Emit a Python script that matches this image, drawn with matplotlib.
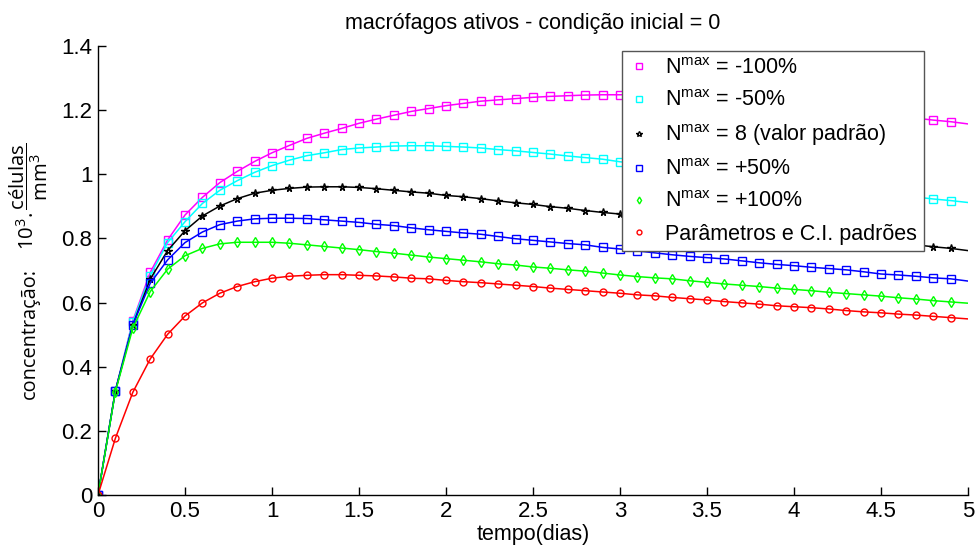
import matplotlib
matplotlib.use("Agg")
import matplotlib.pyplot as plt
from matplotlib.lines import Line2D
from matplotlib.ticker import FuncFormatter

plt.rcParams['font.family'] = ['Liberation Sans', 'DejaVu Sans']
plt.rcParams['mathtext.fontset'] = 'custom'
plt.rcParams['mathtext.rm'] = 'Liberation Sans'
plt.rcParams['mathtext.it'] = 'Liberation Sans:italic'
plt.rcParams['mathtext.bf'] = 'Liberation Sans:bold'
plt.rcParams['mathtext.sf'] = 'Open Sans'

tempo = [0.0, 0.1, 0.2, 0.3, 0.4, 0.5, 0.6, 0.7, 0.8, 0.9,
         1.0, 1.1, 1.2, 1.3, 1.4, 1.5, 1.6, 1.7, 1.8, 1.9,
         2.0, 2.1, 2.2, 2.3, 2.4, 2.5, 2.6, 2.7, 2.8, 2.9,
         3.0, 3.1, 3.2, 3.3, 3.4, 3.5, 3.6, 3.7, 3.8, 3.9,
         4.0, 4.1, 4.2, 4.3, 4.4, 4.5, 4.6, 4.7, 4.8, 4.9,
         5.0]

nmax_m100 = [0, 0.325, 0.543, 0.694, 0.795, 0.873, 0.928, 0.974, 1.009, 1.040,
             1.067, 1.090, 1.112, 1.128, 1.143, 1.159, 1.172, 1.184, 1.196, 1.205,
             1.214, 1.221, 1.228, 1.232, 1.236, 1.240, 1.243, 1.245, 1.247, 1.248,
             1.248, 1.248, 1.247, 1.245, 1.243, 1.240, 1.236, 1.232, 1.227, 1.222,
             1.217, 1.211, 1.205, 1.199, 1.193, 1.187, 1.181, 1.175, 1.169, 1.164,
             1.157]

nmax_m50 = [0, 0.325, 0.540, 0.684, 0.787, 0.852, 0.909, 0.950, 0.980, 1.006,
            1.027, 1.044, 1.058, 1.067, 1.077, 1.082, 1.085, 1.088, 1.089, 1.089,
            1.087, 1.085, 1.082, 1.077, 1.073, 1.068, 1.063, 1.057, 1.052, 1.047,
            1.039, 1.033, 1.027, 1.020, 1.014, 1.007, 1.000, 0.994, 0.987, 0.981,
            0.974, 0.968, 0.961, 0.955, 0.948, 0.942, 0.935, 0.929, 0.923, 0.918,
            0.912]

nmax_padrao = [0, 0.325, 0.530, 0.673, 0.762, 0.824, 0.870, 0.901, 0.924, 0.941,
               0.950, 0.956, 0.960, 0.961, 0.961, 0.959, 0.955, 0.950, 0.945, 0.941,
               0.934, 0.930, 0.924, 0.917, 0.911, 0.906, 0.899, 0.894, 0.887, 0.881,
               0.876, 0.870, 0.864, 0.858, 0.853, 0.847, 0.841, 0.836, 0.830, 0.824,
               0.819, 0.813, 0.808, 0.802, 0.797, 0.791, 0.786, 0.780, 0.774, 0.769,
               0.762]

nmax_p50 = [0, 0.325, 0.530, 0.660, 0.733, 0.787, 0.820, 0.843, 0.854, 0.861,
            0.863, 0.863, 0.862, 0.858, 0.854, 0.850, 0.844, 0.840, 0.833, 0.827,
            0.822, 0.817, 0.813, 0.806, 0.799, 0.794, 0.789, 0.784, 0.780, 0.772,
            0.767, 0.761, 0.755, 0.749, 0.744, 0.740, 0.736, 0.730, 0.724, 0.719,
            0.715, 0.710, 0.706, 0.702, 0.696, 0.689, 0.686, 0.682, 0.677, 0.674,
            0.667]

nmax_p100 = [0, 0.322, 0.520, 0.634, 0.704, 0.746, 0.769, 0.783, 0.788, 0.788,
             0.788, 0.785, 0.780, 0.775, 0.770, 0.765, 0.759, 0.754, 0.748, 0.742,
             0.737, 0.732, 0.727, 0.721, 0.717, 0.711, 0.707, 0.702, 0.698, 0.692,
             0.686, 0.681, 0.677, 0.674, 0.668, 0.663, 0.658, 0.654, 0.650, 0.645,
             0.641, 0.637, 0.632, 0.628, 0.624, 0.620, 0.615, 0.611, 0.606, 0.602,
             0.598]

padroes = [0, 0.177, 0.320, 0.424, 0.501, 0.558, 0.599, 0.629, 0.650, 0.665,
           0.676, 0.682, 0.685, 0.687, 0.687, 0.685, 0.683, 0.680, 0.676, 0.674,
           0.669, 0.665, 0.662, 0.658, 0.654, 0.650, 0.645, 0.641, 0.637, 0.633,
           0.629, 0.624, 0.621, 0.616, 0.612, 0.608, 0.603, 0.599, 0.595, 0.590,
           0.587, 0.584, 0.580, 0.575, 0.571, 0.568, 0.564, 0.561, 0.557, 0.553,
           0.549]

labels = [r'N$^{\mathrm{max}}$ = -100%',
          r'N$^{\mathrm{max}}$ = -50%',
          r'N$^{\mathrm{max}}$ = 8 (valor padrão)',
          r'N$^{\mathrm{max}}$ = +50%',
          r'N$^{\mathrm{max}}$ = +100%',
          'Parâmetros e C.I. padrões']

series = [nmax_m100, nmax_m50, nmax_padrao, nmax_p50, nmax_p100, padroes]
colors = ['#ff00ff', '#00ffff', '#000000', '#0000ff', '#00ff00', '#ff0000']
markers = ['s', 's', '*', 's', 'd', 'o']
msizes = [5.5, 5.5, 5.5, 5.5, 5.0, 5.0]

fig = plt.figure(figsize=(9.78, 5.49), dpi=100)
ax = fig.add_axes([0.1002, 0.0984, 0.8896, 0.8178])

handles = []
for y, c, m, ms, lab in zip(series, colors, markers, msizes, labels):
    ax.plot(tempo, y, color=c, lw=1.1, marker=m, ms=ms, mfc='none', mec=c,
            mew=1.0, markevery=slice(0, 50))
    handles.append(Line2D([], [], color=c, ls='none', marker=m, ms=ms - 1.5,
                          mfc='none', mec=c, mew=1.0, label=lab))

ax.set_xlim(0, 5)
ax.set_ylim(0, 1.4)
ax.set_xticks([0, 0.5, 1, 1.5, 2, 2.5, 3, 3.5, 4, 4.5, 5])
ax.set_yticks([0, 0.2, 0.4, 0.6, 0.8, 1.0, 1.2, 1.4])
fmt = FuncFormatter(lambda v, p: ('%g' % round(v, 2)))
ax.xaxis.set_major_formatter(fmt)
ax.yaxis.set_major_formatter(fmt)
ax.tick_params(direction='in', length=6, width=1, labelsize=16, pad=4)
ax.spines['top'].set_visible(False)
ax.spines['right'].set_visible(False)
for s in ['left', 'bottom']:
    ax.spines[s].set_linewidth(1)

ax.set_title('macrófagos ativos - condição inicial = 0', fontsize=15.5, pad=12)
ax.set_xlabel('tempo(dias)', fontsize=15.5, labelpad=2)

# y label in two parts (word + unit fraction)
fig.text(30 / 978, 1 - 333.5 / 549, 'concentração:', rotation=90,
         ha='center', va='center', family='Open Sans', fontsize=14.3)
fig.text(29 / 978, 1 - 196.5 / 549,
         '$\\mathsf{10^{3}.\\dfrac{células}{mm^{3}}}$', rotation=90,
         ha='center', va='center', fontsize=14.6)

leg = ax.legend(handles=handles, loc='upper right', bbox_to_anchor=(0.949, 0.988),
                fontsize=15.5, frameon=True, fancybox=False, framealpha=1,
                edgecolor='#555555', handlelength=1.0, handletextpad=0.7,
                labelspacing=0.52, borderpad=0.3, borderaxespad=0)
leg.get_frame().set_linewidth(1.0)

fig.savefig('out.png', dpi=100)
